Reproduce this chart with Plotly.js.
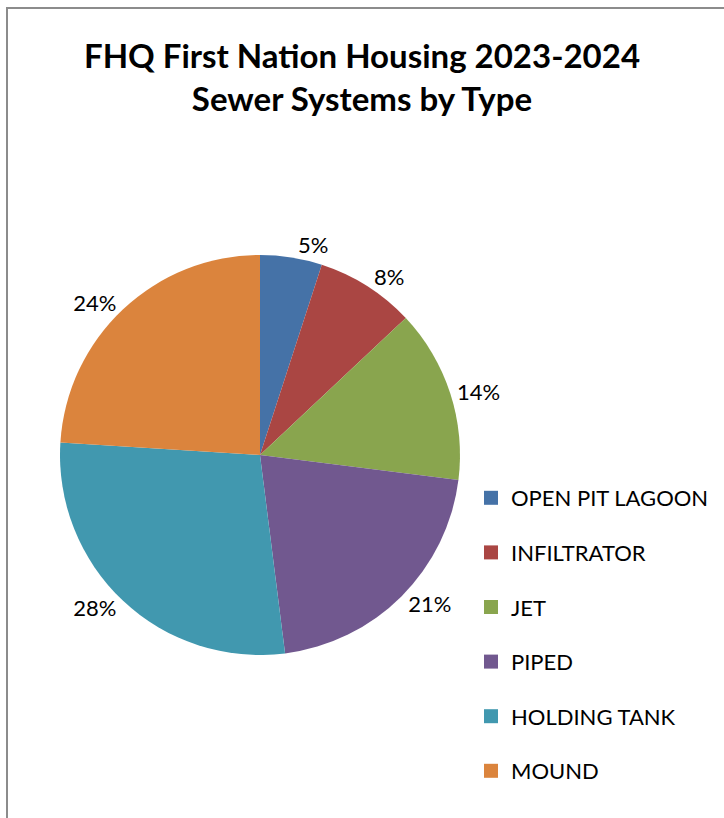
<!DOCTYPE html>
<html>
<head>
<meta charset="utf-8">
<script src="https://cdn.plot.ly/plotly-3.0.1.min.js"></script>
<style>
  body { margin: 0; background: #fff; }
  #chart { position: absolute; left: 0; top: 0; width: 724px; height: 818px; }
  #frame { position: absolute; left: 6px; top: 7px; width: 800px; height: 900px;
           border-left: 2px solid #8c8c8c; border-top: 2px solid #8c8c8c; pointer-events: none; }
</style>
</head>
<body>
<div id="chart"></div>
<div id="frame"></div>
<script>
const categories = ["OPEN PIT LAGOON", "INFILTRATOR", "JET", "PIPED", "HOLDING TANK", "MOUND"];
const shares = [5, 8, 14, 21, 28, 24];
const colors = ["#4572A7", "#AA4643", "#89A54E", "#71588F", "#4198AF", "#DB843D"];
const titleLines = ["FHQ First Nation Housing 2023-2024", "Sewer Systems by Type"];

const FONT = "Lato, 'Open Sans', sans-serif";

const traces = [{
  type: "pie",
  labels: categories,
  values: shares,
  sort: false,
  direction: "clockwise",
  rotation: 0,
  marker: { colors: colors, line: { width: 0 } },
  textinfo: "percent",
  textposition: "outside",
  outsidetextfont: { family: FONT, size: 22, color: "#000" },
  showlegend: false,
  domain: { x: [60 / 724, 460 / 724], y: [1 - 655 / 818, 1 - 255 / 818] },
  hoverinfo: "label+percent"
}];

categories.forEach((c, i) => {
  traces.push({
    type: "scatter",
    mode: "markers",
    x: [null], y: [null],
    name: c,
    legendgroup: "g" + i,
    marker: { symbol: "square", size: 14, color: colors[i] },
    showlegend: true,
    hoverinfo: "skip"
  });
});

const layout = {
  width: 724, height: 818,
  margin: { l: 0, r: 0, t: 0, b: 0 },
  paper_bgcolor: "#fff",
  plot_bgcolor: "rgba(0,0,0,0)",
  font: { family: FONT, color: "#000" },
  title: {
    text: "<b>" + titleLines.join("<br>") + "</b>",
    font: { family: FONT, size: 33, color: "#000" },
    x: 0.5, xanchor: "center",
    y: 1 - 68 / 818, yanchor: "middle", yref: "container"
  },
  xaxis: { visible: false },
  yaxis: { visible: false },
  showlegend: true,
  legend: {
    x: 471 / 724, xanchor: "left",
    y: 1 - 477 / 818, yanchor: "top",
    font: { family: FONT, size: 22, color: "#000" },
    tracegroupgap: 23,
    bgcolor: "rgba(0,0,0,0)"
  }
};

Plotly.newPlot("chart", traces, layout, { staticPlot: true, displayModeBar: false });
</script>
</body>
</html>
